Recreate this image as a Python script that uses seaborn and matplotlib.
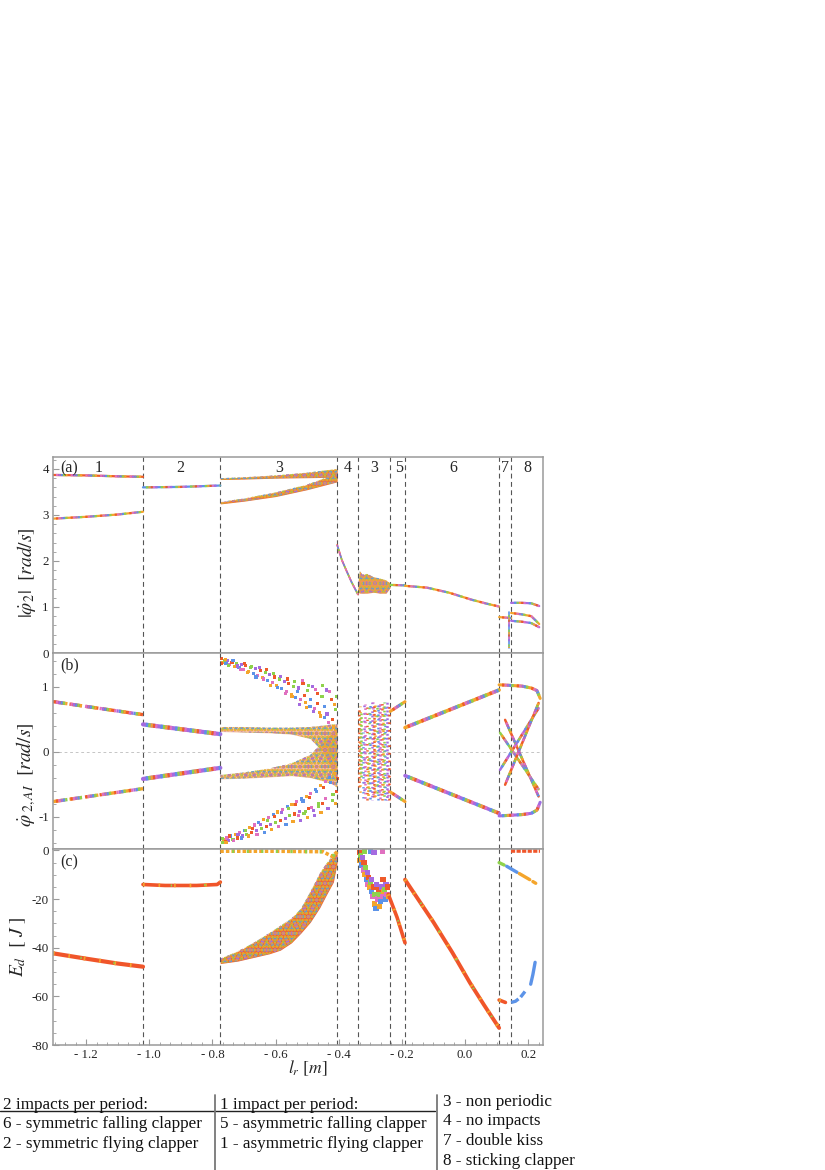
import numpy as np
import pandas as pd
import matplotlib.pyplot as plt
import seaborn as sns
from matplotlib.lines import Line2D
from matplotlib.ticker import MultipleLocator, FixedLocator, FixedFormatter

sns.set_style('ticks')
plt.rcParams['font.family'] = ['Liberation Serif', 'DejaVu Serif']
plt.rcParams['mathtext.fontset'] = 'stix'
plt.rcParams['lines.scale_dashes'] = False
plt.rcParams['hatch.linewidth'] = 1.4
plt.rcParams['axes.unicode_minus'] = False

PAL = ['#EE5A2A', '#F4A52C', '#8ED24B', '#5C93E8', '#A46BE0', '#E070C0']
RED = '#F0552A'

# region borders (l_r) and labels
BOUNDS = [-1.019, -0.775, -0.405, -0.339, -0.237, -0.19, 0.108, 0.146]
REG_X = [-1.161, -0.902, -0.589, -0.370, -0.288, -0.209, -0.038, 0.127, 0.196]
REG_LBL = ['1', '2', '3', '4', '3', '5', '6', '7', '8']
XTICKS = [-1.2, -1.0, -0.8, -0.6, -0.4, -0.2, 0.0, 0.2]
XTICK_LBL = ['- 1.2', '- 1.0', '- 0.8', '- 0.6', '- 0.4', '- 0.2', '0.0', '0.2']

# ---- (a) |phi2'| ----
A1_X = [-1.305, -1.20, -1.10, -1.02]
A1_UP = [3.87, 3.86, 3.84, 3.83]
A1_LO = [2.92, 2.96, 3.01, 3.07]
A2_X = [-1.02, -0.90, -0.775]
A2_Y = [3.60, 3.61, 3.64]
A3_X = [-0.775, -0.70, -0.60, -0.50, -0.405]
A3_UP_LO = [3.77, 3.78, 3.80, 3.81, 3.82]
A3_UP_HI = [3.80, 3.82, 3.86, 3.92, 4.00]
A3_LO_LO = [3.24, 3.30, 3.40, 3.55, 3.72]
A3_LO_HI = [3.28, 3.36, 3.49, 3.66, 3.90]
A4_X = [-0.405, -0.39, -0.375, -0.36, -0.339]
A4_Y = [2.35, 2.02, 1.78, 1.55, 1.27]
A3B_X = [-0.339, -0.333, -0.325, -0.31, -0.29, -0.27, -0.25, -0.237]
A3B_LO = [1.32, 1.30, 1.30, 1.30, 1.32, 1.30, 1.30, 1.42]
A3B_HI = [1.55, 1.78, 1.70, 1.72, 1.65, 1.62, 1.58, 1.52]
A5_X = [-0.237, -0.19]
A5_Y = [1.48, 1.47]
A6_X = [-0.19, -0.12, -0.05, 0.02, 0.07, 0.108]
A6_Y = [1.46, 1.42, 1.31, 1.16, 1.07, 1.01]
A7_X = [0.108, 0.146]
A7_Y = [0.78, 0.76]
A7_DROP_X = [0.140, 0.140]
A7_DROP_Y = [0.90, 0.10]
A8_X = [0.146, 0.18, 0.21, 0.235]
A8_TOP = [1.09, 1.09, 1.08, 1.02]
A8_MID = [0.87, 0.84, 0.80, 0.63]
A8_BOT = [0.70, 0.68, 0.65, 0.56]

# ---- (b) phi2' at impact ----
B1_X = [-1.305, -1.02]
B1_UP = [0.77, 0.57]
B1_LO = [-0.77, -0.57]
B2_X = [-1.02, -0.775]
B2_UP = [0.42, 0.27]
B2_LO = [-0.42, -0.25]
B3_X = [-0.775, -0.70, -0.62, -0.55, -0.49, -0.45, -0.42, -0.405]
B3_UPIN_LO = [0.31, 0.30, 0.29, 0.27, 0.20, 0.00, -0.30, -0.45]
B3_UPIN_HI = [0.38, 0.38, 0.37, 0.37, 0.38, 0.40, 0.42, 0.42]
B3_LOIN_LO = [-0.42, -0.41, -0.39, -0.37, -0.40, -0.45, -0.50, -0.55]
B3_LOIN_HI = [-0.36, -0.32, -0.26, -0.18, -0.05, 0.15, 0.30, 0.38]
CLOUD_X = [-0.772, -0.768, -0.763, -0.757, -0.751, -0.745, -0.738, -0.731, -0.724,
           -0.716, -0.709, -0.701, -0.694, -0.686, -0.679, -0.671, -0.664, -0.656,
           -0.648, -0.641, -0.633, -0.626, -0.618, -0.611, -0.603, -0.596, -0.588,
           -0.581, -0.573, -0.566, -0.558, -0.551, -0.543, -0.536, -0.528, -0.521,
           -0.513, -0.506, -0.498, -0.491, -0.483, -0.476, -0.468, -0.461, -0.453,
           -0.446, -0.438, -0.431, -0.423, -0.416, -0.409]
CLOUD_UP = [1.43, 1.38, 1.41, 1.36, 1.40, 1.34, 1.38, 1.31, 1.36, 1.29, 1.34, 1.27,
            1.33, 1.24, 1.30, 1.21, 1.28, 1.18, 1.25, 1.14, 1.22, 1.10, 1.19, 1.06,
            1.15, 1.02, 1.12, 0.97, 1.08, 0.93, 1.05, 0.88, 1.01, 0.84, 0.98, 0.80,
            1.05, 0.76, 0.94, 0.70, 1.00, 0.66, 0.90, 0.60, 0.85, 0.52, 0.95, 0.45,
            0.80, 0.38, 0.65]
CLOUD_LO = [-1.40, -1.35, -1.38, -1.33, -1.37, -1.30, -1.35, -1.27, -1.33, -1.24,
            -1.30, -1.21, -1.28, -1.17, -1.25, -1.13, -1.22, -1.09, -1.19, -1.05,
            -1.16, -1.01, -1.12, -0.97, -1.09, -0.93, -1.06, -0.89, -1.03, -0.85,
            -0.99, -0.81, -0.96, -0.77, -0.92, -0.73, -0.95, -0.69, -0.88, -0.64,
            -0.90, -0.58, -0.84, -0.52, -0.80, -0.46, -0.88, -0.40, -0.75, -0.34, -0.62]
CLOUD2_X = [-0.770, -0.760, -0.748, -0.735, -0.722, -0.712, -0.698, -0.689, -0.675,
            -0.662, -0.652, -0.638, -0.628, -0.615, -0.606, -0.593, -0.584, -0.570,
            -0.561, -0.548, -0.540, -0.531, -0.523, -0.516, -0.509, -0.502, -0.495,
            -0.488, -0.480, -0.473, -0.466, -0.459, -0.451, -0.444, -0.437, -0.429,
            -0.421, -0.414, -0.407]
CLOUD2_UP = [1.36, 1.42, 1.33, 1.40, 1.32, 1.26, 1.36, 1.22, 1.31, 1.15, 1.30, 1.12,
             1.26, 1.02, 1.21, 0.99, 1.16, 0.90, 1.12, 0.85, 1.08, 0.92, 0.72, 1.10,
             0.86, 0.68, 1.02, 0.80, 0.62, 0.96, 0.74, 0.55, 1.02, 0.70, 0.58, 0.92,
             0.50, 0.72, 0.85]
CLOUD2_LO = [-1.34, -1.40, -1.30, -1.37, -1.27, -1.33, -1.22, -1.30, -1.18, -1.27,
             -1.12, -1.24, -1.06, -1.20, -1.00, -1.16, -0.94, -1.12, -0.88, -1.08,
             -0.82, -0.98, -1.06, -0.76, -0.92, -1.02, -0.70, -0.86, -0.98, -0.62,
             -0.80, -0.94, -0.55, -0.72, -0.88, -0.48, -0.66, -0.80, -0.42]
COL_X = [-0.336, -0.332, -0.328, -0.324, -0.320, -0.316, -0.312, -0.308, -0.304,
         -0.300, -0.296, -0.292, -0.288, -0.284, -0.280, -0.276, -0.272, -0.268,
         -0.264, -0.260, -0.256, -0.252, -0.248, -0.244, -0.240]
COL_LO = [-0.55, -0.70, -0.40, -0.72, -0.70, -0.75, -0.74, -0.72, -0.60, -0.73,
          -0.75, -0.72, -0.70, -0.74, -0.72, -0.75, -0.70, -0.74, -0.75, -0.73,
          -0.72, -0.74, -0.75, -0.72, -0.75]
COL_HI = [0.65, 0.70, 0.60, 0.30, 0.72, 0.74, 0.75, -0.10, 0.74, 0.76, 0.76, 0.76,
          0.74, 0.75, 0.76, 0.74, 0.75, 0.76, 0.76, 0.75, 0.76, 0.77, 0.76, -0.20, 0.76]
B5_X = [-0.237, -0.19]
B5_UP = [0.62, 0.77]
B5_LO = [-0.62, -0.77]
B6_X = [-0.19, 0.108]
B6_UP = [0.37, 0.95]
B6_LO = [-0.37, -0.95]
B8_X = [0.108, 0.146, 0.18, 0.21, 0.228, 0.238]
B8_UP = [1.03, 1.02, 1.01, 0.98, 0.94, 0.82]
B8_LO = [-0.99, -0.98, -0.97, -0.95, -0.90, -0.78]
BX_X = [[0.127, 0.233], [0.111, 0.233], [0.111, 0.233], [0.127, 0.233]]
BX_Y = [[0.49, -0.69], [0.29, -0.58], [-0.28, 0.67], [-0.51, 0.75]]

# ---- (c) E_d ----
C1_X = [-1.305, -1.20, -1.10, -1.02]
C1_Y = [-42.3, -44.5, -46.5, -47.8]
C2_X = [-1.02, -0.95, -0.85, -0.785, -0.775]
C2_Y = [-14.0, -14.4, -14.4, -14.0, -13.0]
C3_X = [-0.775, -0.72, -0.67, -0.62, -0.585, -0.55, -0.52, -0.49, -0.46, -0.44, -0.417, -0.405]
C3_LO = [-46.5, -45.5, -44.0, -42.5, -41.0, -38.0, -34.0, -29.5, -23.5, -18.5, -13.0, -5.0]
C3_HI = [-44.5, -41.5, -38.0, -34.0, -31.0, -28.0, -24.0, -17.0, -9.5, -5.5, -2.0, 0.0]
C3_ZERO_X = [-0.775, -0.60, -0.45, -0.42, -0.405]
C3_ZERO_Y = [-0.3, -0.3, -0.5, -2.5, -0.5]
C3B_X = [-0.335, -0.333, -0.330, -0.328, -0.325, -0.322, -0.320, -0.317, -0.315,
         -0.312, -0.310, -0.307, -0.305, -0.302, -0.300, -0.297, -0.295, -0.292,
         -0.290, -0.287, -0.285, -0.282, -0.280, -0.277, -0.275, -0.272, -0.270,
         -0.267, -0.265, -0.262, -0.260, -0.257, -0.255, -0.252, -0.250, -0.247,
         -0.245, -0.242, -0.318, -0.300, -0.288, -0.262]
C3B_Y = [-1, -4, -2, -6, -3, -8, -5, -10, -7, -12, -9, -14, -11, -15, -13, -17, -12,
         -19, -15, -22, -18, -24, -14, -20, -16, -23, -18, -21, -15, -19, -12, -17,
         -16, -20, -14, -18, -15, -19, -0.5, -0.5, -1.0, -0.5]
C5_X = [-0.243, -0.215, -0.19]
C5_Y = [-18.0, -27.6, -38.0]
C6_X = [-0.19, -0.10, -0.04, 0.016, 0.06, 0.108]
C6_Y = [-12.0, -29.5, -42.0, -54.5, -63.5, -73.0]
C7_X = [0.108, 0.128]
C7_Y = [-61.5, -62.5]
C78_X = [0.108, 0.124, 0.132, 0.165, 0.172, 0.205, 0.215, 0.224]
C78_Y = [-5.0, -6.0, -6.5, -9.0, -9.5, -12.0, -12.8, -13.5]
C78_COL = [2, 3, 1, 1]
C8_ZERO_X = [0.146, 0.238]
C8_ZERO_Y = [-0.4, -0.4]
C8_BLUE_X = [0.146, 0.16, 0.175, 0.19]
C8_BLUE_Y = [-62.5, -62.0, -60.5, -58.0]
C8_BLUE2_X = [0.208, 0.215, 0.222]
C8_BLUE2_Y = [-55.0, -51.0, -46.0]

DOTS = [(1.2, 2.0), (1.0, 3.4), (1.4, 1.4), (1.0, 2.6), (1.3, 4.2)]


def branch(ax, x, y, lw=1.6, base=0, gap=9.0, dashed=None):
    ls = '-' if dashed is None else (0, dashed)
    sns.lineplot(x=x, y=y, ax=ax, color=PAL[base], lw=lw, estimator=None,
                 sort=False, legend=False, linestyle=ls)
    for k in range(1, len(PAL)):
        c = PAL[(base + k) % len(PAL)]
        ax.plot(x, y, color=c, lw=lw, ls=(k * 1.7, (1.6, gap)), dash_capstyle='butt')


def band(ax, x, lo, hi, face='#EC7438', alpha=1.0):
    ax.fill_between(x, lo, hi, color=face, lw=0, alpha=alpha)
    for c, h in [(PAL[2], '....'), (PAL[3], '...'), (PAL[4], '..'), (PAL[1], '.....')]:
        ax.fill_between(x, lo, hi, facecolor='none', edgecolor=c, hatch=h, lw=0)


def ed_line(ax, x, y, lw=2.6):
    sns.lineplot(x=x, y=y, ax=ax, color=RED, lw=lw, estimator=None, sort=False, legend=False)
    ax.plot(x, y, color=PAL[1], lw=lw, ls=(0, (1.2, 10)))
    ax.plot(x, y, color=PAL[2], lw=lw * 0.6, ls=(4, (1.0, 23)))


fig = plt.figure(figsize=(8.25, 11.7), dpi=100)
L, W = 53 / 825, 490 / 825
H = 196 / 1170
ax_a = fig.add_axes([L, 1 - 653 / 1170, W, H])
ax_b = fig.add_axes([L, 1 - 849 / 1170, W, H])
ax_c = fig.add_axes([L, 1 - 1045 / 1170, W, H])

# (a)
branch(ax_a, A1_X, A1_UP)
branch(ax_a, A1_X, A1_LO, base=1)
branch(ax_a, A2_X, A2_Y, base=3)
band(ax_a, A3_X, A3_UP_LO, A3_UP_HI)
band(ax_a, A3_X, A3_LO_LO, A3_LO_HI)
branch(ax_a, A4_X, A4_Y, lw=1.2, base=0, gap=5)
band(ax_a, A3B_X, A3B_LO, A3B_HI, alpha=0.8)
branch(ax_a, A5_X, A5_Y, base=2)
branch(ax_a, A6_X, A6_Y, base=1)
branch(ax_a, A7_X, A7_Y, base=1)
branch(ax_a, A7_DROP_X, A7_DROP_Y, lw=1.2, base=3)
branch(ax_a, A8_X, A8_TOP, base=4)
branch(ax_a, A8_X, A8_MID, base=1)
branch(ax_a, A8_X, A8_BOT, base=4)

# (b)
branch(ax_b, B1_X, B1_UP, lw=2.4, dashed=(9, 3))
branch(ax_b, B1_X, B1_LO, lw=2.4, base=1, dashed=(9, 3))
branch(ax_b, B2_X, B2_UP, lw=3.0, base=4)
branch(ax_b, B2_X, B2_LO, lw=3.0, base=4)
band(ax_b, B3_X, B3_UPIN_LO, B3_UPIN_HI, alpha=0.45)
band(ax_b, B3_X, B3_LOIN_LO, B3_LOIN_HI, alpha=0.45)
for cx, cup, clo in [(CLOUD_X, CLOUD_UP, CLOUD_LO), (CLOUD2_X, CLOUD2_UP, CLOUD2_LO)]:
    hue_idx = [i % len(PAL) for i in range(len(cx))]
    sns.scatterplot(x=cx, y=cup, hue=hue_idx, palette=PAL, marker='s', s=5,
                    linewidth=0, legend=False, ax=ax_b)
    sns.scatterplot(x=[v + 0.003 for v in cx], y=clo, hue=hue_idx[::-1], palette=PAL,
                    marker='s', s=5, linewidth=0, legend=False, ax=ax_b)
for i, (x, lo, hi) in enumerate(zip(COL_X, COL_LO, COL_HI)):
    ax_b.vlines(x, lo, hi, colors=PAL[i % len(PAL)], lw=1.8,
                linestyles=[(i % 3, DOTS[i % len(DOTS)])])
branch(ax_b, B5_X, B5_UP, lw=2.2, base=1)
branch(ax_b, B5_X, B5_LO, lw=2.2, base=1)
branch(ax_b, B6_X, B6_UP, lw=2.6, base=1)
branch(ax_b, B6_X, B6_LO, lw=2.6, base=4)
branch(ax_b, B8_X, B8_UP, lw=2.2, base=1)
branch(ax_b, B8_X, B8_LO, lw=2.2, base=4)
for i, (x, y) in enumerate(zip(BX_X, BX_Y)):
    branch(ax_b, x, y, lw=1.8, base=(i * 2) % len(PAL))
ax_b.axhline(0, color='#bbbbbb', lw=0.6, ls=(0, (2, 2)), zorder=0)

# (c)
ed_line(ax_c, C1_X, C1_Y, lw=3.0)
ed_line(ax_c, C2_X, C2_Y, lw=2.6)
band(ax_c, C3_X, C3_LO, C3_HI, face='#EE6434')
ax_c.plot(C3_ZERO_X, C3_ZERO_Y, color=PAL[1], lw=2.6, ls=(0, (2.5, 1.5)))
ax_c.plot(C3_ZERO_X, C3_ZERO_Y, color=PAL[2], lw=2.6, ls=(2, (1.5, 9)))
c_idx = [i % len(PAL) for i in range(len(C3B_X))]
sns.scatterplot(x=C3B_X, y=C3B_Y, hue=c_idx, palette=PAL, marker='s', s=14,
                linewidth=0, legend=False, ax=ax_c)
ed_line(ax_c, C5_X, C5_Y, lw=2.6)
ed_line(ax_c, C6_X, C6_Y, lw=2.8)
ed_line(ax_c, C7_X, C7_Y, lw=2.6)
for k, ci in enumerate(C78_COL):
    ax_c.plot(C78_X[2 * k:2 * k + 2], C78_Y[2 * k:2 * k + 2], color=PAL[ci], lw=2.4)
ax_c.plot(C8_ZERO_X, C8_ZERO_Y, color=RED, lw=2.6, ls=(0, (3, 1)))
ax_c.plot(C8_BLUE_X, C8_BLUE_Y, color=PAL[3], lw=2.4, ls=(0, (6, 2)))
ax_c.plot(C8_BLUE2_X, C8_BLUE2_Y, color=PAL[3], lw=2.4)

# axes styling
for ax in (ax_a, ax_b, ax_c):
    ax.set_xlim(-1.305, 0.247)
    for xb in BOUNDS:
        ax.axvline(xb, color='#555555', lw=0.8, ls=(0, (3.5, 2.5)), zorder=1)
    for s in ax.spines.values():
        s.set_color('#9a9a9a')
        s.set_linewidth(1.1)
    ax.tick_params(axis='both', which='both', direction='in', colors='#9a9a9a',
                   labelcolor='#222222', labelsize=9.3, pad=3)
    ax.tick_params(which='major', length=4)
    ax.tick_params(which='minor', length=2)
    ax.xaxis.set_major_locator(FixedLocator(XTICKS))
    ax.xaxis.set_minor_locator(MultipleLocator(0.2 / 6))
    ax.set_xlabel('')
    ax.set_ylabel('')

ax_a.set_ylim(0, 4.26)
ax_a.yaxis.set_major_locator(MultipleLocator(1))
ax_a.yaxis.set_minor_locator(MultipleLocator(0.2))
ax_b.set_ylim(-1.5, 1.52)
ax_b.yaxis.set_major_locator(FixedLocator([-1, 0, 1]))
ax_b.yaxis.set_minor_locator(MultipleLocator(0.2))
ax_c.set_ylim(-80, 0.6)
ax_c.yaxis.set_major_locator(MultipleLocator(20))
ax_c.yaxis.set_minor_locator(MultipleLocator(5))
for ax in (ax_a, ax_b):
    ax.tick_params(axis='x', which='both', labelbottom=False, length=0)
ax_c.xaxis.set_major_formatter(FixedFormatter(XTICK_LBL))

ax_a.set_ylabel(r'$|\dot{\varphi}_2|\ \ [rad/s]$', fontsize=14)
ax_a.yaxis.set_label_coords(-0.03, 0.41)
ax_b.set_ylabel(r'$\dot{\varphi}_{\ 2,AI}\ \ [rad/s]$', fontsize=14)
ax_b.yaxis.set_label_coords(-0.03, 0.38)
ax_c.set_ylabel(r'$E_d\ \ [\ J\ ]$', fontsize=14)
ax_c.yaxis.set_label_coords(-0.05, 0.5)
ax_c.set_xlabel(r'$l_r\ [m]$', fontsize=12.6)
ax_c.xaxis.set_label_coords(0.52, -0.07)

for x, t in zip(REG_X, REG_LBL):
    ax_a.text(x, 4.02, t, ha='center', va='center', fontsize=11.5)
for ax, t, yy in [(ax_a, '(a)', 0.944), (ax_b, '(b)', 0.939), (ax_c, '(c)', 0.934)]:
    ax.text(0.033, yy, t, transform=ax.transAxes, ha='center', va='center', fontsize=11.5)

# legend table below the chart
def fx(px):
    return px / 825


def fy(py):
    return 1 - py / 1170


LEG_COLS = [
    (3, [(1105, '2 impacts per period:'), (1124, '6 - symmetric falling clapper'),
         (1144, '2 - symmetric flying clapper')]),
    (220, [(1105, '1 impact per period:'), (1124, '5 - asymmetric falling clapper'),
           (1144, '1 - asymmetric flying clapper')]),
    (443, [(1102, '3 - non periodic'), (1121, '4 - no impacts'),
           (1141, '7 - double kiss'), (1161, '8 - sticking clapper')]),
]
for x0, rows in LEG_COLS:
    for py, t in rows:
        fig.text(fx(x0), fy(py), t, ha='left', va='center', fontsize=12.3, color='#111111')
fig.add_artist(Line2D([fx(0), fx(435)], [fy(1111), fy(1111)], color='#222222', lw=1.0))
fig.add_artist(Line2D([fx(215), fx(215)], [fy(1095), fy(1170)], color='#777777', lw=1.3))
fig.add_artist(Line2D([fx(437), fx(437)], [fy(1095), fy(1170)], color='#777777', lw=1.3))

fig.savefig('out.png', dpi=100, facecolor='white')
